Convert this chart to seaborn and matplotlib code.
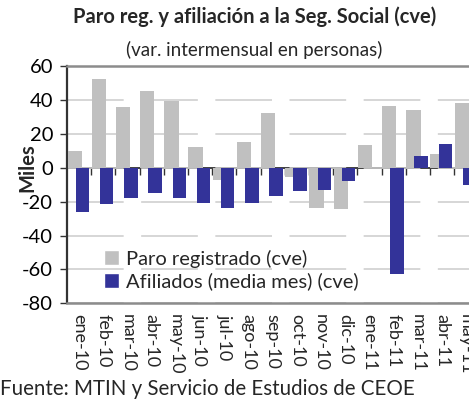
import numpy as np
import matplotlib.pyplot as plt
import seaborn as sns
import pandas as pd

# Data (miles de personas)
meses = ['ene-10', 'feb-10', 'mar-10', 'abr-10', 'may-10', 'jun-10', 'jul-10', 'ago-10',
         'sep-10', 'oct-10', 'nov-10', 'dic-10', 'ene-11', 'feb-11', 'mar-11', 'abr-11', 'may-11']
paro = [9.6, 52.4, 35.6, 45.0, 39.2, 12.0, -7.2, 15.0, 32.4, -5.4, -24.0, -24.6,
        13.2, 36.6, 34.2, 7.8, 38.4]
afiliados = [-26.4, -21.6, -18.0, -15.0, -18.0, -21.0, -24.0, -21.0, -16.8, -13.8,
             -13.2, -7.8, 0.0, -63.0, 7.2, 13.8, -10.2]
series = ['Paro registrado (cve)', 'Afiliados (media mes) (cve)']
colores = ['#c0c0c0', '#333399']

df = pd.DataFrame({'mes': meses * 2,
                   'valor': paro + afiliados,
                   'serie': [series[0]] * len(meses) + [series[1]] * len(meses)})

sns.set_style('white')
plt.rcParams['font.family'] = ['Lato', 'DejaVu Sans']
plt.rcParams['axes.unicode_minus'] = False

fig = plt.figure(figsize=(4.69, 4.01), dpi=100)
ax = fig.add_axes([0.1429, 0.2436, 0.877, 0.5918])

sns.barplot(data=df, x='mes', y='valor', hue='serie', palette=colores,
            dodge=True, saturation=1, width=0.8, ax=ax, zorder=3)

# overlapping bars like the original (Excel style)
offsets = [-0.185, 0.14]
widths = [0.59, 0.56]
for cont, off, w in zip(ax.containers, offsets, widths):
    for bar in cont:
        i = round(bar.get_x() + bar.get_width() / 2)
        bar.set_x(i + off - w / 2)
        bar.set_width(w)
        bar.set_edgecolor('none')

ax.set_xlim(-0.5, len(meses) - 0.5)
ax.set_ylim(-80, 60)
ax.set_yticks(np.arange(-80, 61, 20))
ax.set_xlabel('')
ax.set_ylabel('')

ax.yaxis.grid(True, color='#cfcfcf', linewidth=1.2, linestyle=(0, (34, 10.5)))
ax.set_axisbelow(True)

ax.tick_params(axis='y', left=True, direction='out', length=5, width=1, color='#333333',
               labelsize=14.5, pad=5, labelcolor='black')
ax.tick_params(axis='x', bottom=False, labelsize=13, pad=4, labelrotation=-90)
for lab in ax.get_xticklabels():
    lab.set_va('top')

for s in ['top', 'bottom']:
    ax.spines[s].set_color('#8c8c8c')
    ax.spines[s].set_linewidth(1.8)
ax.spines['left'].set_color('#333333')
ax.spines['left'].set_linewidth(1.6)
ax.spines['right'].set_visible(False)

# zero axis with tick marks between months
zero = ax.secondary_xaxis(0, transform=ax.transData)
zero.set_xticks(np.arange(1, len(meses)) - 0.5)
zero.tick_params(direction='out', length=5, width=1, color='#333333', labelbottom=False)
zero.spines['bottom'].set_color('#404040')
zero.spines['bottom'].set_linewidth(1.4)

handles, labels = ax.get_legend_handles_labels()
ax.legend(handles, labels, loc='upper left', bbox_to_anchor=(0.222, 0.377),
          bbox_transform=fig.transFigure, frameon=False, fontsize=14.5,
          handlelength=0.75, handleheight=0.75, handletextpad=0.35, labelspacing=0.22,
          borderaxespad=0, borderpad=0)

fig.text(0.543, 1 - 17 / 401, 'Paro reg. y afiliación a la Seg. Social (cve)',
         ha='center', va='center', fontsize=14.5, fontweight='bold')
fig.text(0.543, 1 - 50 / 401, '(var. intermensual en personas)',
         ha='center', va='center', fontsize=13.5)
fig.text(27 / 469, 1 - 168 / 401, 'Miles', rotation=90, ha='center', va='center',
         fontsize=14.5, fontweight='bold')
fig.text(0.0, 1 - 389 / 401, 'Fuente: MTIN y Servicio de Estudios de CEOE',
         ha='left', va='center', fontsize=14.8)

fig.savefig('out.png', dpi=100)
